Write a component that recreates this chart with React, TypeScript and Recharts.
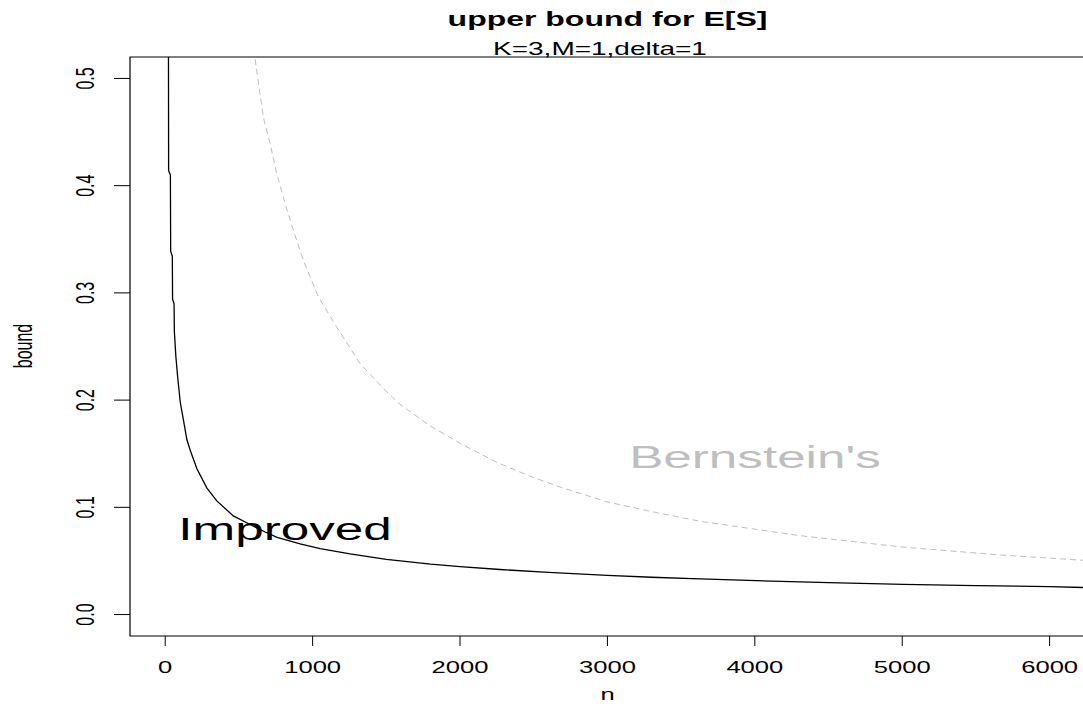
import { LineChart, Line, XAxis, YAxis, ReferenceArea } from "recharts";

// values
const improvedN = [22, 23, 35, 37, 48, 50, 60, 62, 72, 84, 102, 124, 147, 170, 215, 283, 350, 462, 576, 678, 759, 915, 1051, 1254, 1500, 1800, 2000, 2271, 2600, 3000, 3300, 3627, 4011, 4500, 5008, 5500, 6000, 6240];
const improvedBound = [0.52, 0.414, 0.41, 0.339, 0.334, 0.294, 0.29, 0.264, 0.241, 0.222, 0.198, 0.181, 0.163, 0.153, 0.136, 0.118, 0.106, 0.092, 0.084, 0.077, 0.072, 0.066, 0.0615, 0.0565, 0.0515, 0.047, 0.0447, 0.042, 0.0393, 0.0365, 0.0348, 0.0332, 0.0316, 0.0298, 0.0282, 0.027, 0.026, 0.0252];

const bernsteinN = [610, 633, 667, 712, 757, 814, 870, 938, 1040, 1164, 1322, 1480, 1593, 1797, 2023, 2249, 2475, 2678, 3000, 3300, 3627, 4305, 4983, 5661, 6240];
const bernsteinBound = [0.518, 0.495, 0.463, 0.439, 0.411, 0.383, 0.358, 0.33, 0.296, 0.268, 0.234, 0.211, 0.196, 0.176, 0.158, 0.142, 0.129, 0.119, 0.105, 0.096, 0.087, 0.0736, 0.0632, 0.0556, 0.0505];

const xTicks = [0, 1000, 2000, 3000, 4000, 5000, 6000];
const yTicks = [0, 0.1, 0.2, 0.3, 0.4, 0.5];

const improved = improvedN.map((n, i) => ({ n, v: improvedBound[i] }));
const bernstein = bernsteinN.map((n, i) => ({ n, v: bernsteinBound[i] }));

const FONT = "'Liberation Sans', Arial, Helvetica, sans-serif";
const SX = 1.6; // the picture is stretched sideways

function XTick(props: any) {
  const { x, payload } = props;
  return (
    <text
      transform={`translate(${x},673) scale(${SX},1)`}
      textAnchor="middle"
      fontFamily={FONT}
      fontSize={16}
      fill="#000"
    >
      {payload.value}
    </text>
  );
}

function YTick(props: any) {
  const { y, payload } = props;
  return (
    <text
      transform={`translate(94,${y}) scale(${SX},1) rotate(-90)`}
      textAnchor="middle"
      fontFamily={FONT}
      fontSize={16}
      fill="#000"
    >
      {Number(payload.value).toFixed(1)}
    </text>
  );
}

export default function App() {
  return (
    <div
      style={{
        position: "absolute",
        left: 0,
        top: 0,
        width: 1083,
        height: 715,
        overflow: "hidden",
        background: "#fff",
      }}
    >
      <LineChart
        width={1090}
        height={715}
        margin={{ top: 57, right: 5, left: 70, bottom: 39 }}
      >
        <XAxis
          type="number"
          dataKey="n"
          domain={[-239, 6240]}
          ticks={xTicks}
          allowDataOverflow
          axisLine={false}
          tickLine={{ stroke: "#000" }}
          tickSize={10}
          height={40}
          tick={<XTick />}
        />
        <YAxis
          type="number"
          dataKey="v"
          domain={[-0.02, 0.52]}
          ticks={yTicks}
          allowDataOverflow
          axisLine={false}
          tickLine={{ stroke: "#000" }}
          tickSize={16}
          width={60}
          tick={<YTick />}
        />
        <ReferenceArea
          x1={-239}
          x2={6240}
          y1={-0.02}
          y2={0.52}
          fill="none"
          stroke="#000"
          strokeWidth={1.2}
          fillOpacity={0}
        />
        <Line
          data={bernstein}
          dataKey="v"
          type="linear"
          stroke="#bebebe"
          strokeWidth={1}
          strokeDasharray="6 4"
          dot={false}
          isAnimationActive={false}
        />
        <Line
          data={improved}
          dataKey="v"
          type="linear"
          stroke="#000"
          strokeWidth={1.3}
          dot={false}
          isAnimationActive={false}
        />
      </LineChart>
      <svg
        width={1083}
        height={715}
        style={{ position: "absolute", left: 0, top: 0, pointerEvents: "none" }}
        fontFamily={FONT}
      >
        <text transform={`translate(607.5,26) scale(${SX},1)`} textAnchor="middle" fontSize={20} fontWeight="bold" fill="#000">
          upper bound for E[S]
        </text>
        <text transform={`translate(600,55) scale(${SX},1)`} textAnchor="middle" fontSize={17.5} fill="#000">
          K=3,M=1,delta=1
        </text>
        <text transform={`translate(607.5,700) scale(${SX},1)`} textAnchor="middle" fontSize={16} fill="#000">
          n
        </text>
        <text transform={`translate(32,346) scale(${SX},1) rotate(-90)`} textAnchor="middle" fontSize={16} fill="#000">
          bound
        </text>
        <text transform={`translate(285,540) scale(${SX},1)`} textAnchor="middle" fontSize={32} fill="#000">
          Improved
        </text>
        <text transform={`translate(755,468) scale(${SX},1)`} textAnchor="middle" fontSize={32} fill="#bebebe">
          Bernstein's
        </text>
      </svg>
    </div>
  );
}
